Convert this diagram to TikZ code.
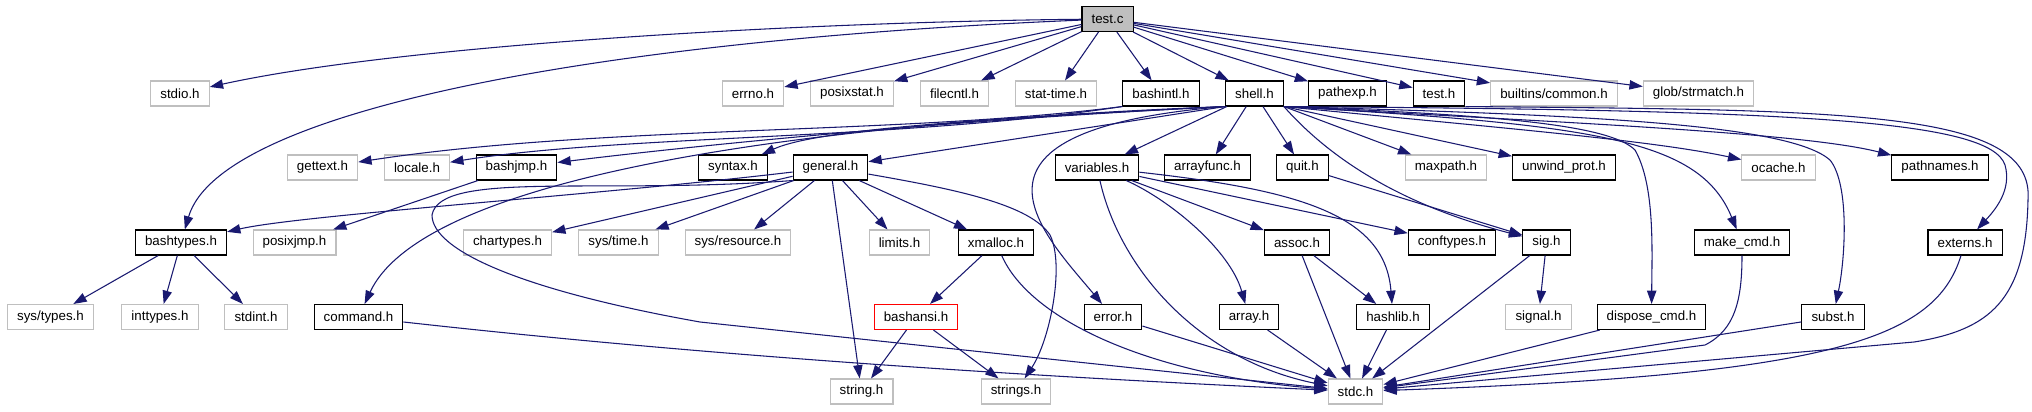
\documentclass[tikz,border=0pt]{standalone}
\usepackage{fontspec}
\setmainfont{Liberation Sans}
\usepackage{tikz}
\usetikzlibrary{arrows.meta}
\definecolor{edgeblue}{RGB}{25, 25, 112}
\definecolor{sysgray}{RGB}{191, 191, 191}
\definecolor{rootfill}{RGB}{191, 191, 191}
\definecolor{cutred}{RGB}{255, 0, 0}

\begin{document}
\begin{tikzpicture}[x=0.75pt, y=-0.75pt,
  incbox/.style={draw, rectangle, line width=0.8pt, minimum height=18.75pt,
    inner xsep=7.2pt, inner ysep=0pt, font=\fontsize{10}{12}\selectfont},
  hdr/.style={incbox, draw=black},
  syshdr/.style={incbox, draw=sysgray},
  cuthdr/.style={incbox, draw=cutred},
  root/.style={incbox, draw=black, fill=rootfill},
  dep/.style={edgeblue, line width=0.8pt, -{Triangle[length=10pt, width=7pt]}}]

  \useasboundingbox (0,0) rectangle (2032,411);

  % ---------- root ----------
  \node[root] (testc) at (1107.5,19) {test.c};

  % ---------- rank 1 ----------
  \node[syshdr] (stdio)     at (180,93.5)    {stdio.h};
  \node[syshdr] (errno)     at (753,93.5)    {errno.h};
  \node[syshdr] (posixstat) at (852,93.5)    {posixstat.h};
  \node[syshdr] (filecntl)  at (954.5,93.5)  {filecntl.h};
  \node[syshdr] (stattime)  at (1056,93.5)   {stat-time.h};
  \node[hdr]    (bashintl)  at (1161,93.5)   {bashintl.h};
  \node[hdr]    (shell)     at (1254.5,93.5) {shell.h};
  \node[hdr]    (pathexp)   at (1347.5,93.5) {pathexp.h};
  \node[hdr]    (testh)     at (1439,93.5)   {test.h};
  \node[syshdr] (common)    at (1554,93.5)   {builtins/common.h};
  \node[syshdr] (strmatch)  at (1698.5,93.5) {glob/strmatch.h};

  % ---------- rank 2 ----------
  \node[syshdr] (gettext)   at (322.5,167.5)  {gettext.h};
  \node[syshdr] (locale)    at (417,167.5)    {locale.h};
  \node[hdr]    (bashjmp)   at (516.5,167.5)  {bashjmp.h};
  \node[hdr]    (syntax)    at (733,167.5)    {syntax.h};
  \node[hdr]    (general)   at (830.5,167.5)  {general.h};
  \node[hdr]    (variables) at (1097,167.5)   {variables.h};
  \node[hdr]    (arrayfunc) at (1207.5,167.5) {arrayfunc.h};
  \node[hdr]    (quit)      at (1302.5,167.5) {quit.h};
  \node[syshdr] (maxpath)   at (1446,167.5)   {maxpath.h};
  \node[hdr]    (unwind)    at (1564,167.5)   {unwind\_prot.h};
  \node[syshdr] (ocache)    at (1778.5,167.5) {ocache.h};
  \node[hdr]    (pathnames) at (1940,167.5)   {pathnames.h};

  % ---------- rank 3 ----------
  \node[hdr]    (bashtypes) at (181,242.5)    {bashtypes.h};
  \node[syshdr] (posixjmp)  at (294.5,242.5)  {posixjmp.h};
  \node[syshdr] (chartypes) at (507.5,242.5)  {chartypes.h};
  \node[syshdr] (systime)   at (618.5,242.5)  {sys/time.h};
  \node[syshdr] (sysres)    at (738,242.5)    {sys/resource.h};
  \node[syshdr] (limits)    at (899.5,242.5)  {limits.h};
  \node[hdr]    (xmalloc)   at (996,242.5)    {xmalloc.h};
  \node[hdr]    (assoc)     at (1297,242.5)   {assoc.h};
  \node[hdr]    (conftypes) at (1452,242.5)   {conftypes.h};
  \node[hdr]    (sig)       at (1546.5,242.5) {sig.h};
  \node[hdr]    (makecmd)   at (1742,242.5)   {make\_cmd.h};
  \node[hdr]    (externs)   at (1965,242.5)   {externs.h};

  % ---------- rank 4 ----------
  \node[syshdr] (systypes)   at (50.5,317)   {sys/types.h};
  \node[syshdr] (inttypes)   at (160,317)    {inttypes.h};
  \node[syshdr] (stdint)     at (256,317)    {stdint.h};
  \node[hdr]    (command)    at (358.5,317)  {command.h};
  \node[cuthdr] (bashansi)   at (916,317)    {bashansi.h};
  \node[hdr]    (error)      at (1113,317)   {error.h};
  \node[hdr]    (array)      at (1249,317)   {array.h};
  \node[hdr]    (hashlib)    at (1393,317)   {hashlib.h};
  \node[syshdr] (signal)     at (1538.5,317) {signal.h};
  \node[hdr]    (disposecmd) at (1651.5,317) {dispose\_cmd.h};
  \node[hdr]    (subst)      at (1833,317)   {subst.h};

  % ---------- rank 5 ----------
  \node[syshdr] (string)  at (861.5,391.5)  {string.h};
  \node[syshdr] (strings) at (1016,391.5)   {strings.h};
  \node[syshdr] (stdc)    at (1355.5,391.5) {stdc.h};

  % ---------- test.c ----------
  \draw[dep] (testc) .. controls (800,22) and (400,45) .. (stdio);
  \draw[dep] (testc) .. controls (600,40) and (220,110) .. (bashtypes);
  \foreach \h in {errno,posixstat,filecntl,stattime,bashintl,shell,pathexp,testh,common,strmatch}
    \draw[dep] (testc) -- (\h);

  % ---------- bashintl.h ----------
  \draw[dep] (bashintl.south west) .. controls (900,135) and (600,125) .. (gettext);
  \draw[dep] (bashintl.south west) .. controls (900,140) and (620,135) .. (locale);

  % ---------- shell.h ----------
  \draw[dep] (shell.south west) .. controls (950,120) and (700,145) .. (bashjmp);
  \draw[dep] (shell.south west) .. controls (1000,118) and (820,128) .. (syntax);
  \draw[dep] (shell.south west) -- (general);
  \draw[dep] (shell.south west) .. controls (750,125) and (420,185) .. (command);
  \draw[dep] (shell.south west) .. controls (940,130) and (1040,230) .. (error);
  \foreach \h in {variables,arrayfunc,quit}
    \draw[dep] (shell) -- (\h);
  \draw[dep] (shell.south east) -- (maxpath);
  \draw[dep] (shell.south east) -- (unwind);
  \draw[dep] (shell.south east) .. controls (1340,170) and (1420,210) .. (sig);
  \draw[dep] (shell.south east) .. controls (1500,128) and (1650,140) .. (ocache);
  \draw[dep] (shell.south east) .. controls (1550,122) and (1800,132) .. (pathnames);
  \draw[dep] (shell.south east) .. controls (1500,115) and (1610,125) .. (1635,150)
    .. controls (1655,185) and (1652,250) .. (disposecmd);
  \draw[dep] (shell.south east) .. controls (1600,125) and (1700,140) .. (makecmd);
  \draw[dep] (shell.south east) .. controls (1600,115) and (1790,125) .. (1830,160)
    .. controls (1850,185) and (1845,260) .. (subst);
  \draw[dep] (shell.south east) .. controls (1800,110) and (1990,120) .. (2005,165)
    .. controls (2012,190) and (1995,210) .. (externs);

  % ---------- test.h ----------
  \draw[dep] (testh.south east) .. controls (1850,110) and (2035,110) .. (2028,200)
    .. controls (2026,300) and (1990,330) .. (1914,342) -- (stdc);

  % ---------- general.h ----------
  \draw[dep] (general) .. controls (600,195) and (300,215) .. (bashtypes);
  \foreach \h in {chartypes,systime,sysres,limits,xmalloc,string}
    \draw[dep] (general) -- (\h);
  \draw[dep] (general) .. controls (960,190) and (1030,205) .. (1050,235)
    .. controls (1065,265) and (1050,340) .. (strings);
  \draw[dep] (general.south west) .. controls (600,195) and (440,170) .. (432,215)
    .. controls (432,250) and (520,290) .. (700,322) -- (stdc);

  % ---------- variables.h ----------
  \draw[dep] (variables) .. controls (1120,270) and (1200,360) .. (stdc);
  \draw[dep] (variables) .. controls (1170,200) and (1230,250) .. (array);
  \draw[dep] (variables) -- (assoc);
  \draw[dep] (variables) .. controls (1300,190) and (1385,215) .. (hashlib);
  \draw[dep] (variables) -- (conftypes);

  % ---------- lower ranks ----------
  \draw[dep] (quit) -- (sig);
  \draw[dep] (bashjmp) -- (posixjmp);
  \foreach \h in {systypes,inttypes,stdint}
    \draw[dep] (bashtypes) -- (\h);
  \draw[dep] (xmalloc) -- (bashansi);
  \draw[dep] (xmalloc) .. controls (1030,320) and (1150,375) .. (stdc);
  \draw[dep] (bashansi) -- (string);
  \draw[dep] (bashansi) -- (strings);
  \draw[dep] (command) .. controls (700,355) and (1000,375) .. (stdc);
  \draw[dep] (assoc) -- (hashlib);
  \foreach \h in {error,array,assoc,hashlib,sig,disposecmd,subst}
    \draw[dep] (\h) -- (stdc);
  \draw[dep] (sig) -- (signal);
  \draw[dep] (makecmd) .. controls (1742,300) and (1735,330) .. (1705,345) -- (stdc);
  \draw[dep] (externs) .. controls (1935,340) and (1830,375) .. (stdc);

\end{tikzpicture}
\end{document}
